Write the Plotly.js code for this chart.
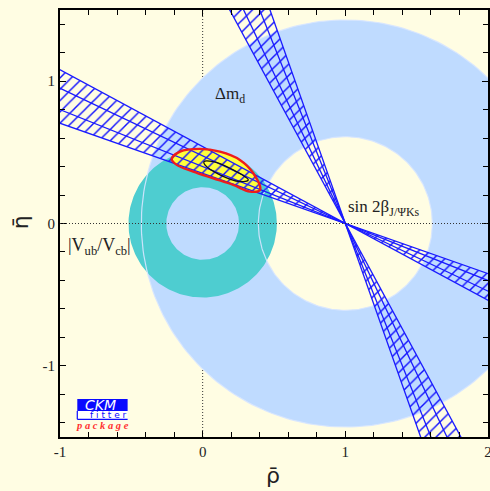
<!DOCTYPE html>
<html>
<head>
<meta charset="utf-8">
<script src="https://cdn.plot.ly/plotly-3.0.1.min.js"></script>
<style>html,body{margin:0;padding:0;background:#fffde3;}#chart{width:490px;height:491px;}</style>
</head>
<body>
<div id="chart"></div>
<script>
// ---- data ----
const dmdCenter = [1, 0];          // Δm_d ring centre (ρ, η)
const dmdRadii = [0.61, 1.43];     // inner / outer radius
const vubCenter = [0, 0];          // |Vub/Vcb| ring centre
const vubRadii = [0.255, 0.52];    // inner / outer radius
const apex = [1, 0];               // sin2β wedge apex
const tanBetaOuter = [0.352, 0.540];
const tanBetaInner = [0.400, 0.475];
// global fit contours (ρ, η)
const fitRho = [-0.217, -0.159, -0.019, 0.121, 0.261, 0.355, 0.402, 0.331, 0.214, 0.074, -0.066, -0.182];
const fitEta = [0.452, 0.505, 0.524, 0.505, 0.447, 0.353, 0.236, 0.224, 0.271, 0.318, 0.365, 0.412];
const innerRho = [0.009, 0.074, 0.214, 0.320, 0.261, 0.121, 0.016];
const innerEta = [0.435, 0.435, 0.377, 0.306, 0.295, 0.342, 0.412];
const xTickVals = [-1, 0, 1, 2];
const xTickText = ['-1', '0', '1', '2'];
const yTickVals = [-1, 0, 1];
const yTickText = ['-1', '0', '1'];

// ---- helpers ----
function circle(c, r, n, reverse) {
  const xs = [], ys = [];
  for (let i = 0; i <= n; i++) {
    let a = 2 * Math.PI * i / n;
    if (reverse) a = -a;
    xs.push(c[0] + r * Math.cos(a));
    ys.push(c[1] + r * Math.sin(a));
  }
  return [xs, ys];
}
function ring(c, radii, color) {
  const o = circle(c, radii[1], 240, false);
  const i = circle(c, radii[0], 240, true);
  return {x: o[0].concat(i[0]), y: o[1].concat(i[1]), mode: 'lines', fill: 'toself',
          fillcolor: color, line: {width: 0, color: color}, hoverinfo: 'skip', showlegend: false};
}
// shallow solution: η = -t(ρ-ρ0); steep solution: η = -(ρ-ρ0)/t
function shallowLine(t) { const L = 4; return [[apex[0] - L, apex[0] + L], [apex[1] + L * t, apex[1] - L * t]]; }
function steepLine(t) { const L = 4; return [[apex[0] - L * t, apex[0] + L * t], [apex[1] + L, apex[1] - L]]; }
function band(fn, ts) {
  const a = fn(ts[0]), b = fn(ts[1]);
  return {x: [a[0][0], a[0][1], b[0][1], b[0][0], a[0][0]], y: [a[1][0], a[1][1], b[1][1], b[1][0], a[1][0]],
          mode: 'lines', fill: 'toself', fillcolor: 'rgba(0,0,0,0)',
          fillpattern: {shape: '/', size: 8, solidity: 0.18, fgcolor: '#1010ff', bgcolor: 'rgba(0,0,0,0)', fillmode: 'replace'},
          line: {width: 0, color: 'rgba(0,0,0,0)'}, hoverinfo: 'skip', showlegend: false};
}
function lineTrace(p, color, w, shape) {
  return {x: p[0], y: p[1], mode: 'lines', line: {color: color, width: w, shape: shape || 'linear', smoothing: 1},
          hoverinfo: 'skip', showlegend: false};
}
function closed(a) { return a.concat([a[0]]); }

const traces = [];
traces.push(ring(dmdCenter, dmdRadii, '#bfdbff'));
traces.push(ring(vubCenter, vubRadii, '#4ecdd0'));
// Δm_d boundaries seen faintly over the other regions
dmdRadii.forEach(r => { const c = circle(dmdCenter, r, 240, false); traces.push(lineTrace(c, 'rgba(215,230,255,0.9)', 1.2)); });
// global fit fill
traces.push({x: closed(fitRho), y: closed(fitEta), mode: 'lines', fill: 'toself', fillcolor: '#ffff3c',
             line: {width: 0, shape: 'spline', smoothing: 1}, hoverinfo: 'skip', showlegend: false});
// sin2β bands
traces.push(band(shallowLine, tanBetaOuter));
traces.push(band(steepLine, tanBetaOuter));
tanBetaOuter.concat(tanBetaInner).forEach(t => {
  traces.push(lineTrace(shallowLine(t), '#1a1aff', 1.3));
  traces.push(lineTrace(steepLine(t), '#1a1aff', 1.3));
});
// contours
traces.push(lineTrace([closed(fitRho), closed(fitEta)], '#ee1c1c', 2.4, 'spline'));
traces.push(lineTrace([closed(innerRho), closed(innerEta)], '#111111', 1.3, 'spline'));

const serif = 'Liberation Serif, Times New Roman, serif';
const axisCommon = {
  showgrid: false, zeroline: false, showline: true, linecolor: 'black', linewidth: 2, mirror: 'allticks',
  ticks: 'inside', ticklen: 6, tickwidth: 1, tickcolor: 'black', tickmode: 'array', ticklabeloverflow: 'allow',
  tickfont: {family: serif, size: 15, color: '#222'},
  minor: {tickmode: 'linear', tick0: 0, dtick: 0.2, ticks: 'inside', ticklen: 5, tickwidth: 1, tickcolor: 'black'},
  fixedrange: true
};

const layout = {
  width: 490, height: 491,
  margin: {l: 60, r: 2, t: 10, b: 54},
  paper_bgcolor: '#fffde3', plot_bgcolor: '#fffde3',
  showlegend: false,
  xaxis: Object.assign({}, axisCommon, {range: [-1, 2], tickvals: xTickVals, ticktext: xTickText}),
  yaxis: Object.assign({}, axisCommon, {range: [-1.5, 1.5], tickvals: yTickVals, ticktext: yTickText}),
  shapes: [
    {type: 'line', xref: 'paper', yref: 'y', x0: 0, x1: 1, y0: 0, y1: 0, line: {color: '#333', width: 1, dash: '1px,2px'}, layer: 'above'},
    {type: 'line', xref: 'x', yref: 'paper', x0: 0, x1: 0, y0: 0, y1: 1, line: {color: '#333', width: 1, dash: '1px,2px'}, layer: 'below'},
    // CKMfitter logo
    {type: 'rect', xref: 'paper', yref: 'paper', x0: 0.0404, x1: 0.158, y0: 0.0609, y1: 0.089, fillcolor: '#0a0aff', line: {width: 0}},
    {type: 'rect', xref: 'paper', yref: 'paper', x0: 0.0404, x1: 0.158, y0: 0.0415, y1: 0.0609, fillcolor: 'white', line: {width: 0}},
    {type: 'line', xref: 'paper', yref: 'paper', x0: 0.0404, x1: 0.158, y0: 0.0415, y1: 0.0415, line: {color: '#0a0aff', width: 1.2}},
    {type: 'line', xref: 'paper', yref: 'paper', x0: 0.0404, x1: 0.0404, y0: 0.0415, y1: 0.0609, line: {color: '#0a0aff', width: 1.2}}
  ],
  annotations: [
    {x: 0.072, y: 0.9, xref: 'x', yref: 'y', xanchor: 'left', yanchor: 'middle', showarrow: false,
     text: 'Δm<sub>d</sub>', font: {family: serif, size: 17, color: '#222'}},
    {x: 1.005, y: 0.11, xref: 'x', yref: 'y', xanchor: 'left', yanchor: 'middle', showarrow: false,
     text: 'sin 2β<sub>J/ΨKs</sub>', font: {family: serif, size: 17, color: '#222'}},
    {x: -0.955, y: -0.165, xref: 'x', yref: 'y', xanchor: 'left', yanchor: 'middle', showarrow: false,
     text: '|V<sub>ub</sub>/V<sub>cb</sub>|', font: {family: serif, size: 18, color: '#222'}},
    {x: 0.498, y: -0.091, xref: 'paper', yref: 'paper', xanchor: 'center', yanchor: 'middle', showarrow: false,
     text: 'ρ̄', font: {family: 'DejaVu Sans, sans-serif', size: 22, color: '#222'}},
    {x: -0.0935, y: 0.503, xref: 'paper', yref: 'paper', xanchor: 'center', yanchor: 'middle', showarrow: false, textangle: -90,
     text: 'η̄', font: {family: 'DejaVu Sans, sans-serif', size: 22, color: '#222'}},
    {x: 0.094, y: 0.075, xref: 'paper', yref: 'paper', xanchor: 'center', yanchor: 'middle', showarrow: false,
     text: '<i>CKM</i>', font: {family: 'DejaVu Sans, sans-serif', size: 14, color: 'white'}},
    {x: 0.113, y: 0.051, xref: 'paper', yref: 'paper', xanchor: 'center', yanchor: 'middle', showarrow: false,
     text: 'f i t t e r', font: {family: 'DejaVu Sans, sans-serif', size: 9, color: '#0a0aff'}},
    {x: 0.1, y: 0.027, xref: 'paper', yref: 'paper', xanchor: 'center', yanchor: 'middle', showarrow: false,
     text: '<b><i>p a c k a g e</i></b>', font: {family: serif, size: 10.5, color: '#ff3030'}}
  ]
};

Plotly.newPlot('chart', traces, layout, {staticPlot: true, displayModeBar: false});
</script>
</body>
</html>
